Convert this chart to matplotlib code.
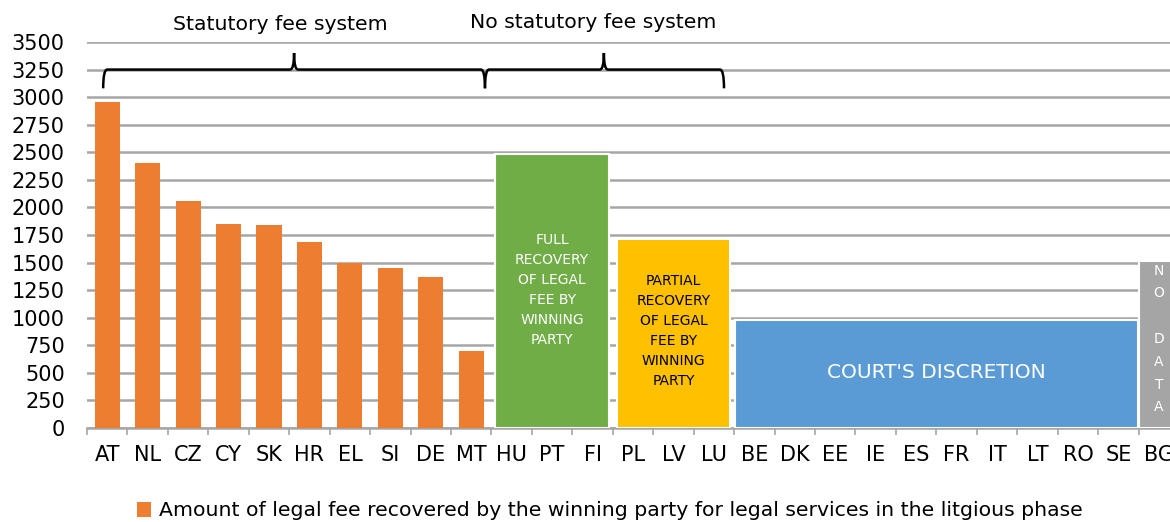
import matplotlib
matplotlib.use("Agg")
import matplotlib.pyplot as plt
from matplotlib.path import Path
from matplotlib.patches import PathPatch
import numpy as np

plt.rcParams['font.family'] = ['DejaVu Sans']

categories = ["AT", "NL", "CZ", "CY", "SK", "HR", "EL", "SI", "DE", "MT",
              "HU", "PT", "FI", "PL", "LV", "LU", "BE", "DK", "EE", "IE",
              "ES", "FR", "IT", "LT", "RO", "SE", "BG"]
statutory_values = [2960, 2400, 2060, 1850, 1840, 1690, 1500, 1450, 1370, 700]

# block groups
block_labels = ["FULL\nRECOVERY\nOF LEGAL\nFEE BY\nWINNING\nPARTY",
                "PARTIAL\nRECOVERY\nOF LEGAL\nFEE BY\nWINNING\nPARTY",
                "COURT'S DISCRETION",
                "N\nO\n\nD\nA\nT\nA"]
block_start = [10, 13, 16, 26]
block_end = [12, 15, 25, 26]
block_heights = [2480, 1710, 975, 1510]
block_colors = ["#70AD47", "#FFC000", "#5B9BD5", "#A5A5A5"]
block_text_colors = ["white", "black", "white", "white"]
block_fontsizes = [10, 10, 14.5, 10]
block_linespacing = [1.55, 1.55, 1.2, 1.8]
block_text_frac = [0.505, 0.515, 0.52, 0.535]
block_widths_trim = [0.2, 0.2, 0.04, 0.04]

legend_label = "Amount of legal fee recovered by the winning party for legal services in the litgious phase"
yticks = list(range(0, 3501, 250))

fig = plt.figure(figsize=(11.7, 5.22), dpi=100)
ax = fig.add_axes([87/1170, 1-428/522, 1092/1170, 386/522])

x = np.arange(len(categories))
ax.bar(x[:len(statutory_values)], statutory_values, width=0.62, color="#ED7D31",
       label=legend_label, zorder=3)

for i in range(len(block_start)):
    s, e, h = block_start[i], block_end[i], block_heights[i]
    center = (s + e) / 2
    width = (e - s + 1) - block_widths_trim[i]
    ax.bar(center, h, width=width, color=block_colors[i], edgecolor="white",
           linewidth=1.5, zorder=3)
    ax.text(center, h * block_text_frac[i], block_labels[i], ha="center", va="center",
            color=block_text_colors[i], fontsize=block_fontsizes[i],
            linespacing=block_linespacing[i], zorder=4)

ax.set_xlim(-0.5, len(categories) - 0.5)
ax.set_ylim(0, 3500)
ax.set_yticks(yticks)
ax.tick_params(axis="y", length=0, labelsize=15, pad=16)
ax.set_xticks(x)
ax.set_xticklabels(categories)
ax.tick_params(axis="x", which="major", length=0, labelsize=15, pad=12)
ax.set_xticks(np.arange(-0.5, len(categories), 1), minor=True)
ax.tick_params(axis="x", which="minor", length=5, width=1.2, color="#A6A6A6", direction="out")

ax.yaxis.grid(True, color="#A6A6A6", linewidth=1.8, zorder=0)
ax.set_axisbelow(True)
for sp in ["left", "right", "top"]:
    ax.spines[sp].set_visible(False)
ax.spines["bottom"].set_color("#A6A6A6")
ax.spines["bottom"].set_linewidth(1.8)

def brace(x0, x1, xm, ybase=3250, yend=3080, ytip=3400, dx=0.1):
    verts = [(x0, yend), (x0, ybase), (x0 + dx, ybase),
             (xm - dx, ybase), (xm, ybase), (xm, ytip),
             (xm, ybase), (xm + dx, ybase),
             (x1 - dx, ybase), (x1, ybase), (x1, yend)]
    codes = [Path.MOVETO, Path.CURVE3, Path.CURVE3,
             Path.LINETO, Path.CURVE3, Path.CURVE3,
             Path.CURVE3, Path.CURVE3,
             Path.LINETO, Path.CURVE3, Path.CURVE3]
    ax.add_patch(PathPatch(Path(verts, codes), facecolor="none", edgecolor="black",
                           linewidth=1.8, zorder=5, clip_on=False))

brace(-0.1, 9.34, 4.62)
brace(9.34, 15.25, 12.28)

fig.text(280/1170, 1-25/522, "Statutory fee system", ha="center", va="center", fontsize=14.7)
fig.text(593/1170, 1-22/522, "No statutory fee system", ha="center", va="center", fontsize=14.7)

fig.legend(loc="center", bbox_to_anchor=(610/1170, 1-511/522), frameon=False,
           fontsize=14.7, handlelength=0.7, handleheight=0.7, handletextpad=0.4)

fig.savefig("out.png", dpi=100)
